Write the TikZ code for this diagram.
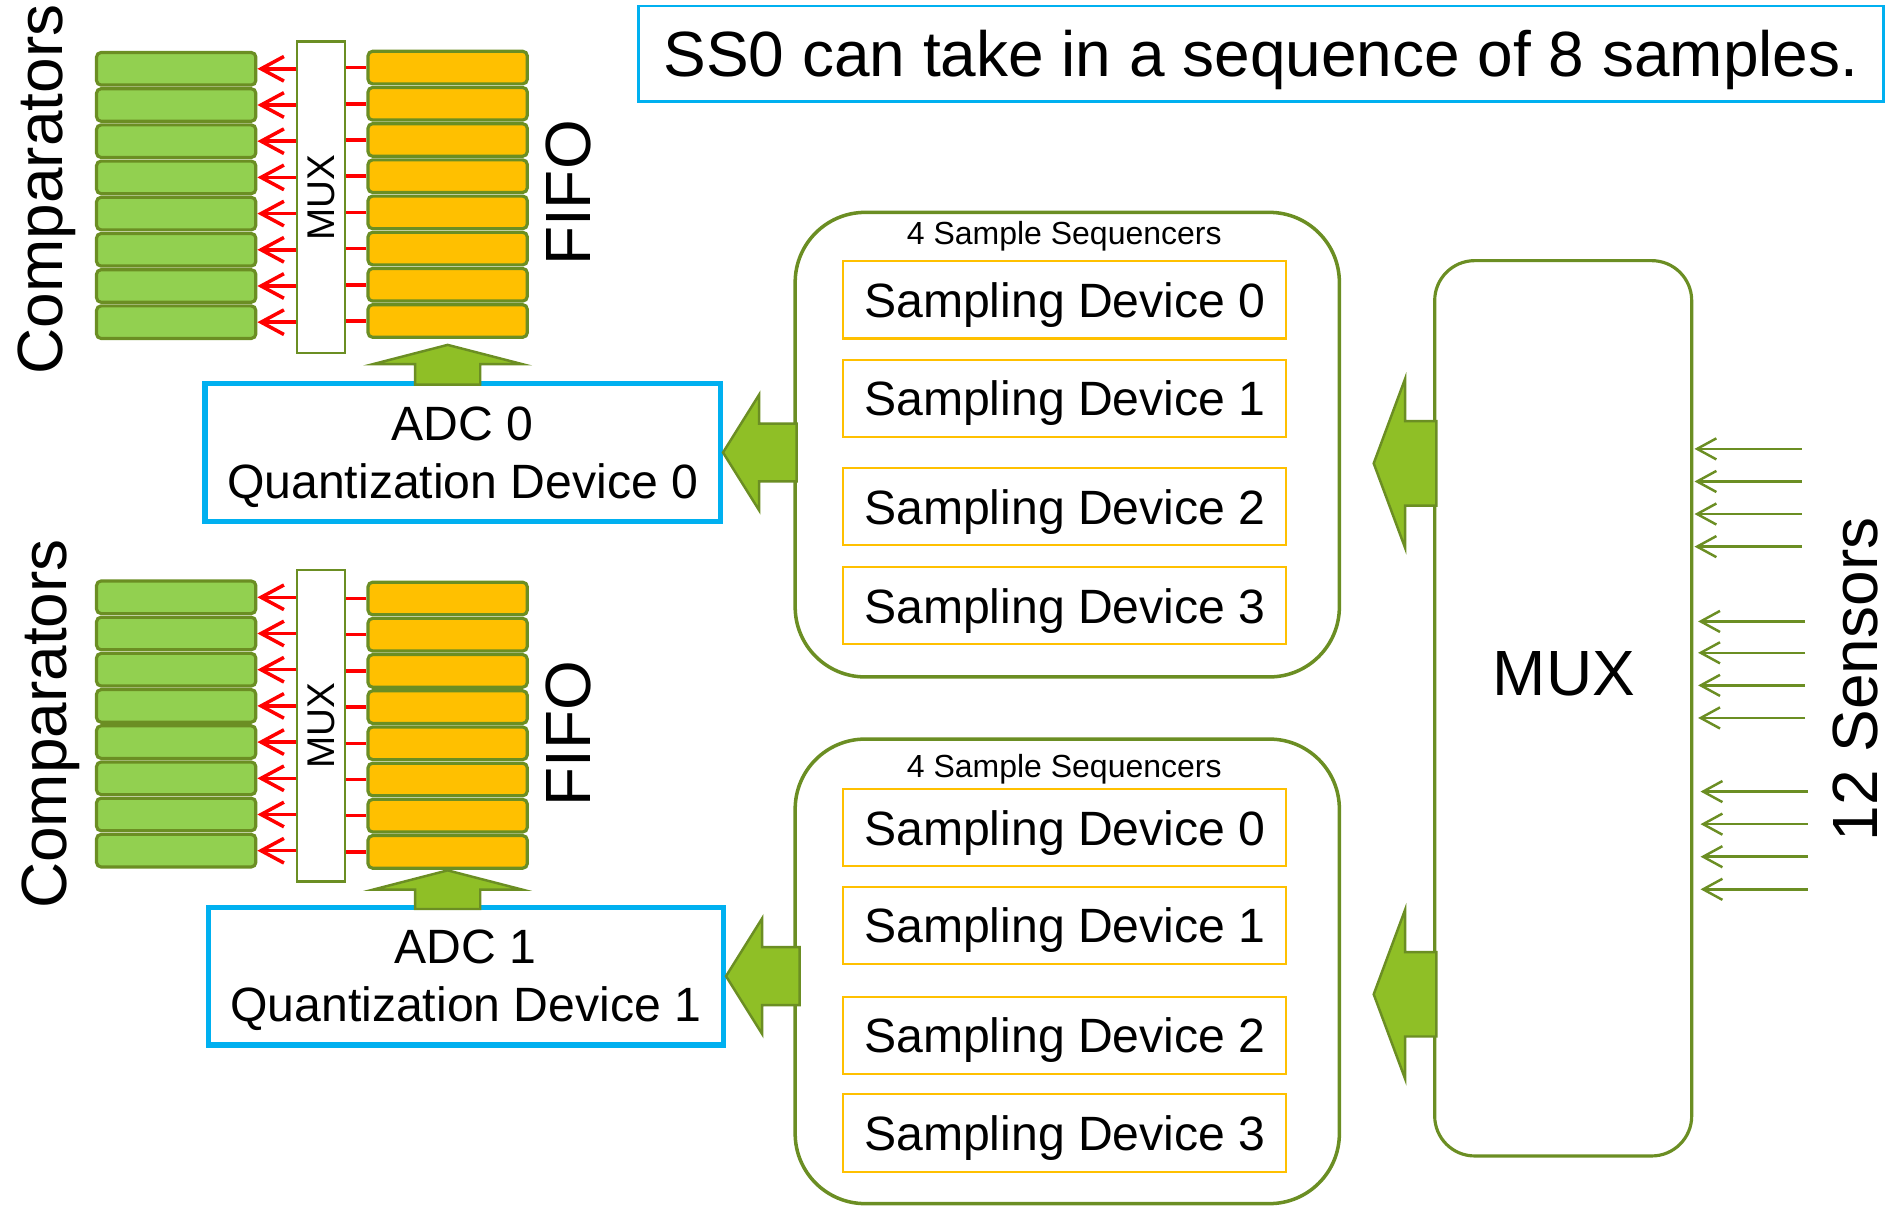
\documentclass[tikz,border=0pt]{standalone}
\usepackage{fontspec}
\setmainfont{Liberation Sans}
\usetikzlibrary{arrows.meta,positioning}
\definecolor{Leaf}{HTML}{92D050}
\definecolor{Olive}{HTML}{6B8E23}
\definecolor{Amber}{HTML}{FFC000}
\definecolor{Sky}{HTML}{00B0F0}
\definecolor{Lime}{HTML}{8FBF26}
\newcommand{\pu}{0.12066mm}
\newcommand{\hugetxt}{\fontsize{18.2}{22}\selectfont}
\newcommand{\midtxt}{\fontsize{13.7}{16.5}\selectfont}
\newcommand{\tinytxt}{\fontsize{9.1}{11}\selectfont}

\begin{document}
\begin{tikzpicture}[x=\pu, y=-\pu, >={Straight Barb[length=5.5pt,width=6pt]},
  cmp/.style={draw=Olive, fill=Leaf, line width=0.9pt, rounded corners=1.3pt,
    minimum width=132*\pu, minimum height=27*\pu, inner sep=0pt},
  fifo/.style={cmp, fill=Amber},
  smux/.style={draw=Olive, line width=0.7pt, minimum width=40*\pu,
    minimum height=258*\pu, inner sep=0pt, font={\fontsize{11}{13}\selectfont}},
  adc/.style={draw=Sky, line width=1.5pt, minimum width=427*\pu,
    minimum height=114*\pu, align=center, text depth=0pt, font=\midtxt},
  seq/.style={draw=Olive, line width=1pt, rounded corners=7mm,
    minimum width=451*\pu, minimum height=385*\pu},
  dev/.style={draw=Amber, line width=0.6pt, minimum width=367*\pu,
    minimum height=64*\pu, text depth=0pt, font=\midtxt},
  fat/.style={draw=Olive, fill=Lime, line width=0.7pt},
  feed/.style={-{Straight Barb[length=6.5pt,width=7pt]}, red, line width=1pt},
  sense/.style={->, Olive, line width=0.7pt}]
  \useasboundingbox (0,0) rectangle (1568,999);

  \node[draw=Sky, line width=0.8pt, minimum width=1032*\pu, minimum height=79*\pu,
    text depth=0pt, font=\hugetxt] (title) at (1045,44.5)
    {SS0 can take in a sequence of 8 samples.};

  % comparators, mux and fifo
  \foreach \i in {0,...,7} {
    \node[cmp] (cmpA\i) at (146,57+30*\i) {};
    \node[fifo] (fifoA\i) at (371,56+30*\i) {};
    \node[cmp] (cmpB\i) at (146,495+30*\i) {};
    \node[fifo] (fifoB\i) at (371,496+30*\i) {};
  }
  \node[smux] (smuxA) at (266,163.5) {\rotatebox{90}{MUX}};
  \node[smux] (smuxB) at (266,601.5) {\rotatebox{90}{MUX}};
  \foreach \g in {A,B}
    \foreach \i in {0,...,7} {
      \draw[feed] (smux\g.west |- cmp\g\i) -- (cmp\g\i.east);
      \draw[red, line width=1pt] (fifo\g\i.west) -- (smux\g.east |- fifo\g\i);
    }
  \node[rotate=90, font=\hugetxt] (cmpAlbl) at (39,157) {Comparators};
  \node[rotate=90, font=\hugetxt] (cmpBlbl) at (42,600) {Comparators};
  \node[rotate=90, font=\hugetxt] (fifoAlbl) at (471,160) {FIFO};
  \node[rotate=90, font=\hugetxt] (fifoBlbl) at (471,608) {FIFO};

  % quantization
  \node[adc] (adcA) at (383.5,375) {ADC 0\\Quantization Device 0};
  \node[adc] (adcB) at (386,809) {ADC 1\\Quantization Device 1};
  \draw[fat] (fifoA7.south) ++(0,5) -- ++(62,16) -- ++(-35,0) -- ++(0,17)
    -- ++(-54,0) -- ++(0,-17) -- ++(-35,0) -- cycle;
  \draw[fat] (fifoB7.south) ++(0,0.5) -- ++(62,16) -- ++(-35,0) -- ++(0,16)
    -- ++(-54,0) -- ++(0,-16) -- ++(-35,0) -- cycle;

  % sample sequencers
  \node[seq] (seqA) at (884.5,368.5) {};
  \node[seq] (seqB) at (884.5,805) {};
  \node[font=\tinytxt, text depth=0pt] (seqAlbl) at (882,193) {4 Sample Sequencers};
  \node[font=\tinytxt, text depth=0pt] (seqBlbl) at (882,635) {4 Sample Sequencers};
  \foreach \i/\ya/\yb in {0/248.5/686, 1/330/767, 2/420/858, 3/502/939} {
    \node[dev] (devA\i) at (882.5,\ya) {Sampling Device \i};
    \node[dev] (devB\i) at (882.5,\yb) {Sampling Device \i};
  }
  \draw[fat] (adcA.east) -- ++(30,-48) -- ++(0,24) -- ++(31,0) -- ++(0,48)
    -- ++(-31,0) -- ++(0,24) -- cycle;
  \draw[fat] (adcB.east) -- ++(30,-48) -- ++(0,24) -- ++(31,0) -- ++(0,48)
    -- ++(-31,0) -- ++(0,24) -- cycle;

  % input mux
  \node[draw=Olive, line width=0.9pt, rounded corners=4mm, minimum width=213*\pu,
    minimum height=742*\pu] (muxB) at (1295.5,587) {};
  \node[font=\hugetxt] (muxlbl) at (1296,558) {MUX};
  \draw[fat] (seqA.east) ++(27,15.5) -- ++(26,-70) -- ++(0,35) -- ++(26,0)
    -- ++(0,70) -- ++(-26,0) -- ++(0,35) -- cycle;
  \draw[fat] (seqB.east) ++(27,19) -- ++(26,-70) -- ++(0,35) -- ++(26,0)
    -- ++(0,70) -- ++(-26,0) -- ++(0,35) -- cycle;
  \foreach \y/\s in {372/1, 399/1, 426/1, 453/1, 515/4, 541/4, 568/4, 595/4,
                     656/6, 683/6, 710/6, 737/6}
    \draw[sense] (1492+\s,\y) -- ([xshift=\s*\pu]muxB.east |- 0,\y);
  \node[rotate=90, font=\hugetxt] (senslbl) at (1538,563) {12 Sensors};
\end{tikzpicture}
\end{document}
